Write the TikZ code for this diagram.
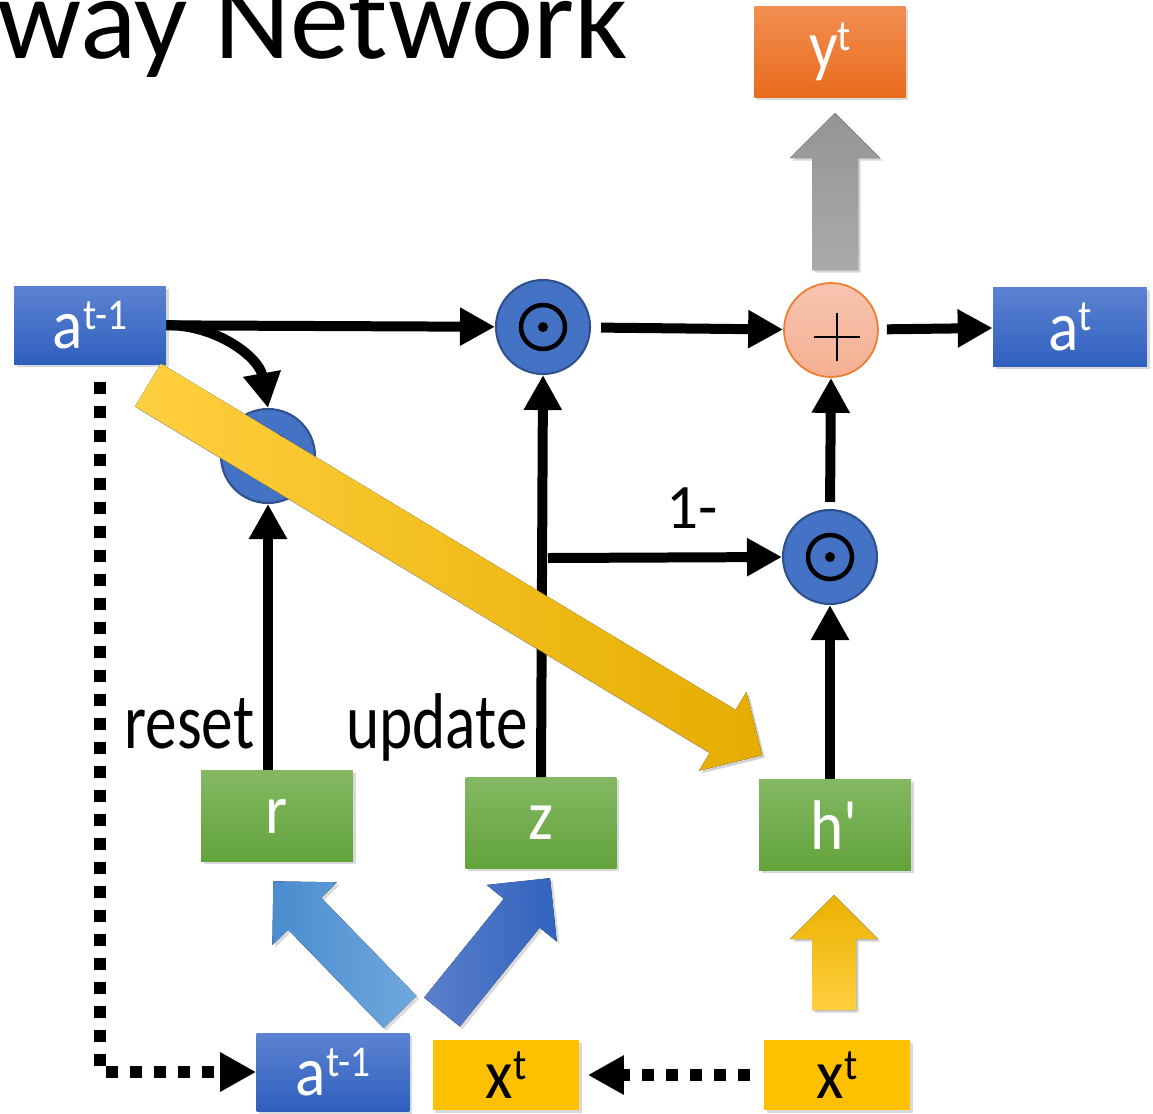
\documentclass[tikz,border=0pt]{standalone}
\usepackage{fontspec}
\setmainfont{Carlito}
\newfontfamily\slidefont[FakeStretch=0.8]{Carlito}
\newfontfamily\boxfont[FakeStretch=0.9]{Carlito}
\usetikzlibrary{arrows.meta,shadows}

\definecolor{boxblueA}{HTML}{5C83D2}
\definecolor{boxblueB}{HTML}{2F5FBE}
\definecolor{gatefill}{HTML}{4472C4}
\definecolor{gateline}{HTML}{2F528F}
\definecolor{boxgreenA}{HTML}{84B862}
\definecolor{boxgreenB}{HTML}{62A33B}
\definecolor{boxorangeA}{HTML}{F28E52}
\definecolor{boxorangeB}{HTML}{E96B1C}
\definecolor{xyellow}{HTML}{FFC000}
\definecolor{addfill}{HTML}{F5B59C}
\definecolor{addline}{HTML}{ED7D31}
\definecolor{skyA}{HTML}{4A8CCF}
\definecolor{skyB}{HTML}{70A8DD}
\definecolor{deepA}{HTML}{3163BE}
\definecolor{deepB}{HTML}{5B7FCB}

% superscript inside the boxes
\newcommand\sups[1]{\raisebox{11pt}{\fontsize{25}{25}\selectfont #1}}

% block arrow: style, tail, angle, length, half shaft, half head
\newcommand\blockarr[6]{%
  \begin{scope}[shift={#2}, rotate=#3]
    \fill[#1] (0,-#5) -- ({#4-#6},-#5) -- ({#4-#6},-#6) -- (#4,0)
      -- ({#4-#6},#6) -- ({#4-#6},#5) -- (0,#5) -- cycle;
  \end{scope}}

\tikzset{
  vecbox/.style={rectangle, minimum width=3.04cm, minimum height=1.56cm, inner sep=0pt,
    font=\boxfont\fontsize{40}{40}\selectfont,
    drop shadow={opacity=0.3, shadow xshift=1.5pt, shadow yshift=-1.5pt}},
  bluebox/.style={vecbox, top color=boxblueA, bottom color=boxblueB, text=white},
  greenbox/.style={vecbox, minimum height=1.82cm, top color=boxgreenA, bottom color=boxgreenB, text=white},
  orangebox/.style={vecbox, minimum height=1.82cm, top color=boxorangeA, bottom color=boxorangeB, text=white},
  yellowbox/.style={vecbox, minimum width=2.94cm, minimum height=1.4cm, fill=xyellow, text=black, drop shadow={opacity=0}},
  prodgate/.style={circle, minimum size=1.88cm, fill=gatefill, draw=gateline, line width=1.2pt,
    path picture={
      \draw[black, line width=0.09cm] (path picture bounding box.center) circle (0.44cm);
      \fill[black] (path picture bounding box.center) circle (0.1cm);}},
  addgate/.style={circle, minimum size=1.88cm, top color=addfill!80!white, bottom color=addfill!90!addline, draw=addline, line width=1pt,
    path picture={
      \draw[black, line width=0.8pt] ([xshift=0.12cm,yshift=-0.14cm]path picture bounding box.center) +(-0.46cm,0) -- +(0.46cm,0)
        ([xshift=0.12cm,yshift=-0.14cm]path picture bounding box.center) +(0,-0.48cm) -- +(0,0.48cm);}},
  arr/.style={line width=0.2cm, -{Triangle[length=0.7cm,width=0.72cm]}},
  dots/.style={line width=0.24cm, dash pattern=on 0.24cm off 0.24cm, -{Triangle[length=0.72cm,width=0.74cm]}},
  lbl/.style={inner sep=0pt, font=\slidefont\fontsize{45}{45}\selectfont},
  bigyellow/.style={left color=xyellow!75!white, right color=xyellow!90!black,
    drop shadow={opacity=0.35, shadow xshift=1.5pt, shadow yshift=-1.5pt}},
  smallyellow/.style={top color=xyellow!92!black, bottom color=xyellow!75!white,
    drop shadow={opacity=0.35, shadow xshift=1.5pt, shadow yshift=-1.5pt}},
  grayup/.style={top color=black!42, bottom color=black!33,
    drop shadow={opacity=0.3, shadow xshift=1.5pt, shadow yshift=-1.5pt}},
  lightblue/.style={left color=skyA, right color=skyB,
    drop shadow={opacity=0.3, shadow xshift=1.5pt, shadow yshift=-1.5pt}},
  darkblue/.style={left color=deepB, right color=deepA,
    drop shadow={opacity=0.3, shadow xshift=1.5pt, shadow yshift=-1.5pt}},
}

\begin{document}
\begin{tikzpicture}[x=0.02cm, y=-0.02cm]
\useasboundingbox (0,0) rectangle (1153,1113);
\clip (0,0) rectangle (1153,1113);

\node[anchor=base east, inner sep=0pt, font=\fontsize{67}{67}\selectfont] (title) at (628,58) {Highway Network};

% boxes
\node[bluebox] (aprev) at (90,325) {a\sups{t-1}};
\node[bluebox, minimum width=3.08cm, minimum height=1.58cm] (anext) at (1070,327) {a\sups{t}};
\node[orangebox, minimum width=3.02cm] (yout) at (830,52) {y\sups{t}};
\node[greenbox] (rgate) at (277,816) {r};
\node[greenbox, minimum width=3.02cm] (zgate) at (541,823) {z};
\node[greenbox] (hcand) at (835,825) {h\textquotesingle};
\node[bluebox, minimum width=3.06cm, minimum height=1.56cm] (ain) at (333,1072) {a\sups{t-1}};
\node[yellowbox] (xin) at (506,1075) {x\sups{t}};
\node[yellowbox, minimum width=2.92cm] (xcopy) at (837,1075) {x\sups{t}};

% gates
\node[prodgate] (mulz) at (543,327) {};
\node[prodgate] (mulr) at (268,456) {};
\node[prodgate] (mulh) at (830,557) {};
\node[addgate] (addo) at (831,330) {};

% connections
\draw[arr] (aprev) -- (mulz);
\draw[arr] (aprev.east) to[out=0, in=100] (mulr.north);
\draw[arr, shorten <=0.2cm] (mulz) -- (addo);
\draw[arr, shorten <=0.16cm] (addo) -- (anext);
\draw[arr] (zgate.north) -- (mulz.south);
\draw[arr] (rgate.north -| mulr) -- (mulr.south);
\draw[arr] (hcand.north -| mulh) -- (mulh.south);
\draw[arr, shorten <=0.14cm] (mulh.north) -- (addo.south);
\coordinate (zsplit) at (548,558);
\draw[arr] (zsplit) -- (mulh.west);
\node[anchor=base west, inner sep=0pt, font=\fontsize{36}{36}\selectfont] (oneminus) at (666,528) {1-};

\node[lbl, anchor=base west] (resetlbl) at (124,748) {reset};
\node[lbl, anchor=base west] (updatelbl) at (346,748) {update};

% copies of a and x
\coordinate (dotstart) at (100,382);
\draw[dots] (dotstart) |- (ain.west);
\draw[dots, shorten <=0.28cm, shorten >=0.16cm] (xcopy.west) -- (xin.east);

% block arrows
\blockarr{grayup}{(835,270)}{90}{157}{23}{45}
\blockarr{smallyellow}{(834,1010)}{90}{115}{22}{44}
\blockarr{lightblue}{(400,1012)}{134.1}{182}{23}{45}
\blockarr{darkblue}{(442,1012)}{51.1}{172}{23}{45}
\blockarr{bigyellow}{(148,385)}{-31.07}{717}{25}{46}
\end{tikzpicture}
\end{document}
